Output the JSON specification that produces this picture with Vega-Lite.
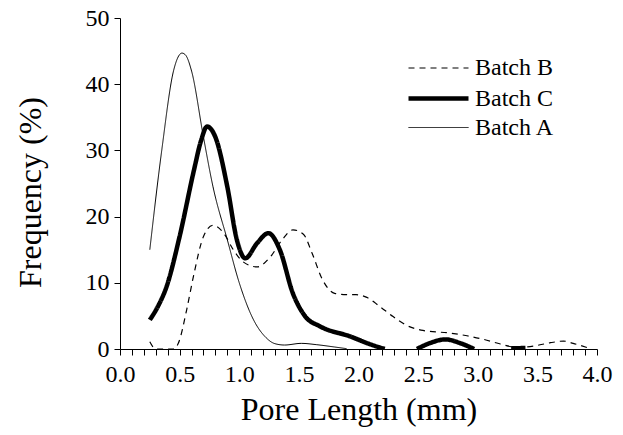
{
  "$schema": "https://vega.github.io/schema/vega-lite/v6.json",
  "width": 477,
  "height": 331,
  "autosize": "none",
  "padding": {"left": 120, "top": 18, "right": 26, "bottom": 86},
  "background": "white",
  "config": {
    "view": {"stroke": null},
    "font": "Liberation Serif",
    "axis": {"domainColor": "black", "tickColor": "black", "labelColor": "black", "titleColor": "black", "grid": false, "labelFont": "Liberation Serif", "titleFont": "Liberation Serif", "titleFontWeight": "normal"},
    "legend": {"labelFont": "Liberation Serif", "labelColor": "black"}
  },
  "data": {"values": [
    {"b": "Batch A", "s": 1, "x": 0.25, "y": 15},
    {"b": "Batch A", "s": 1, "x": 0.35, "y": 30},
    {"b": "Batch A", "s": 1, "x": 0.45, "y": 42.1},
    {"b": "Batch A", "s": 1, "x": 0.52, "y": 44.7},
    {"b": "Batch A", "s": 1, "x": 0.55, "y": 44.4},
    {"b": "Batch A", "s": 1, "x": 0.6, "y": 42},
    {"b": "Batch A", "s": 1, "x": 0.7, "y": 32},
    {"b": "Batch A", "s": 1, "x": 0.78, "y": 24.5},
    {"b": "Batch A", "s": 1, "x": 0.9, "y": 16.5},
    {"b": "Batch A", "s": 1, "x": 1.0, "y": 10},
    {"b": "Batch A", "s": 1, "x": 1.12, "y": 4.4},
    {"b": "Batch A", "s": 1, "x": 1.22, "y": 1.8},
    {"b": "Batch A", "s": 1, "x": 1.3, "y": 0.8},
    {"b": "Batch A", "s": 1, "x": 1.38, "y": 0.6},
    {"b": "Batch A", "s": 1, "x": 1.52, "y": 0.85},
    {"b": "Batch A", "s": 1, "x": 1.65, "y": 0.65},
    {"b": "Batch A", "s": 1, "x": 1.8, "y": 0.3},
    {"b": "Batch A", "s": 1, "x": 1.9, "y": 0.05},
    {"b": "Batch C", "s": 1, "x": 0.25, "y": 4.4},
    {"b": "Batch C", "s": 1, "x": 0.32, "y": 6.5},
    {"b": "Batch C", "s": 1, "x": 0.39, "y": 9.4},
    {"b": "Batch C", "s": 1, "x": 0.5, "y": 17},
    {"b": "Batch C", "s": 1, "x": 0.62, "y": 27},
    {"b": "Batch C", "s": 1, "x": 0.68, "y": 31.5},
    {"b": "Batch C", "s": 1, "x": 0.73, "y": 33.6},
    {"b": "Batch C", "s": 1, "x": 0.8, "y": 32},
    {"b": "Batch C", "s": 1, "x": 0.9, "y": 24.5},
    {"b": "Batch C", "s": 1, "x": 0.98, "y": 16.5},
    {"b": "Batch C", "s": 1, "x": 1.05, "y": 13.7},
    {"b": "Batch C", "s": 1, "x": 1.15, "y": 16},
    {"b": "Batch C", "s": 1, "x": 1.245, "y": 17.5},
    {"b": "Batch C", "s": 1, "x": 1.34, "y": 15},
    {"b": "Batch C", "s": 1, "x": 1.45, "y": 8.4},
    {"b": "Batch C", "s": 1, "x": 1.55, "y": 5},
    {"b": "Batch C", "s": 1, "x": 1.68, "y": 3.4},
    {"b": "Batch C", "s": 1, "x": 1.93, "y": 1.9},
    {"b": "Batch C", "s": 1, "x": 2.1, "y": 0.7},
    {"b": "Batch C", "s": 1, "x": 2.22, "y": 0},
    {"b": "Batch C", "s": 2, "x": 2.49, "y": 0},
    {"b": "Batch C", "s": 2, "x": 2.6, "y": 0.9},
    {"b": "Batch C", "s": 2, "x": 2.73, "y": 1.45},
    {"b": "Batch C", "s": 2, "x": 2.85, "y": 0.9},
    {"b": "Batch C", "s": 2, "x": 2.97, "y": 0},
    {"b": "Batch C", "s": 3, "x": 3.28, "y": 0.1},
    {"b": "Batch C", "s": 3, "x": 3.4, "y": 0.15},
    {"b": "Batch B", "s": 1, "x": 0.25, "y": 1.1},
    {"b": "Batch B", "s": 1, "x": 0.3, "y": 0},
    {"b": "Batch B", "s": 1, "x": 0.45, "y": 0},
    {"b": "Batch B", "s": 1, "x": 0.49, "y": 0.9},
    {"b": "Batch B", "s": 1, "x": 0.56, "y": 6},
    {"b": "Batch B", "s": 1, "x": 0.615, "y": 10.9},
    {"b": "Batch B", "s": 1, "x": 0.7, "y": 17},
    {"b": "Batch B", "s": 1, "x": 0.78, "y": 18.7},
    {"b": "Batch B", "s": 1, "x": 0.87, "y": 17.5},
    {"b": "Batch B", "s": 1, "x": 0.95, "y": 15},
    {"b": "Batch B", "s": 1, "x": 1.03, "y": 13.2},
    {"b": "Batch B", "s": 1, "x": 1.15, "y": 12.4},
    {"b": "Batch B", "s": 1, "x": 1.26, "y": 13.9},
    {"b": "Batch B", "s": 1, "x": 1.36, "y": 16.5},
    {"b": "Batch B", "s": 1, "x": 1.45, "y": 18},
    {"b": "Batch B", "s": 1, "x": 1.54, "y": 17.3},
    {"b": "Batch B", "s": 1, "x": 1.61, "y": 14.5},
    {"b": "Batch B", "s": 1, "x": 1.7, "y": 10.4},
    {"b": "Batch B", "s": 1, "x": 1.8, "y": 8.4},
    {"b": "Batch B", "s": 1, "x": 1.9, "y": 8.2},
    {"b": "Batch B", "s": 1, "x": 1.98, "y": 8.2},
    {"b": "Batch B", "s": 1, "x": 2.07, "y": 7.8},
    {"b": "Batch B", "s": 1, "x": 2.18, "y": 6.4},
    {"b": "Batch B", "s": 1, "x": 2.29, "y": 4.9},
    {"b": "Batch B", "s": 1, "x": 2.4, "y": 3.6},
    {"b": "Batch B", "s": 1, "x": 2.54, "y": 2.8},
    {"b": "Batch B", "s": 1, "x": 2.77, "y": 2.4},
    {"b": "Batch B", "s": 1, "x": 2.91, "y": 2.0},
    {"b": "Batch B", "s": 1, "x": 3.05, "y": 1.45},
    {"b": "Batch B", "s": 1, "x": 3.19, "y": 0.75},
    {"b": "Batch B", "s": 1, "x": 3.33, "y": 0.25},
    {"b": "Batch B", "s": 1, "x": 3.47, "y": 0.45},
    {"b": "Batch B", "s": 1, "x": 3.61, "y": 0.95},
    {"b": "Batch B", "s": 1, "x": 3.72, "y": 1.2},
    {"b": "Batch B", "s": 1, "x": 3.8, "y": 0.85},
    {"b": "Batch B", "s": 1, "x": 3.92, "y": 0.2}
  ]},
  "mark": {"type": "line", "interpolate": "monotone", "color": "black", "clip": true},
  "encoding": {
    "x": {"field": "x", "type": "quantitative",
      "scale": {"domain": [0, 4], "nice": false, "zero": false},
      "axis": {"title": "Pore Length (mm)", "titleFontSize": 32, "titlePadding": 8,
        "values": [0,0.1,0.2,0.3,0.4,0.5,0.6,0.7,0.8,0.9,1,1.1,1.2,1.3,1.4,1.5,1.6,1.7,1.8,1.9,2,2.1,2.2,2.3,2.4,2.5,2.6,2.7,2.8,2.9,3,3.1,3.2,3.3,3.4,3.5,3.6,3.7,3.8,3.9,4],
        "labelExpr": "round(datum.value*10) % 5 == 0 ? format(datum.value, '.1f') : ''",
        "labelOverlap": false, "labelBound": false, "labelFlush": false,
        "labelFontSize": 24, "labelPadding": 7, "tickSize": 6}},
    "y": {"field": "y", "type": "quantitative",
      "scale": {"domain": [0, 50], "nice": false},
      "axis": {"title": "Frequency (%)", "titleFontSize": 32, "titlePadding": 38, "titleY": 174,
        "values": [0, 10, 20, 30, 40, 50], "labelFontSize": 24, "labelPadding": 5, "tickSize": 6}},
    "detail": {"field": "s"},
    "strokeDash": {"field": "b", "type": "nominal",
      "scale": {"domain": ["Batch B", "Batch C", "Batch A"], "range": [[6, 5], [1, 0], [1, 0]]},
      "legend": {"title": null, "orient": "none", "legendX": 304, "legendY": 37,
        "symbolType": "M-2.5,0H2.5", "symbolSize": 576, "symbolStrokeColor": "black",
        "labelFontSize": 24, "labelOffset": 22, "rowPadding": 4, "padding": 0}},
    "strokeWidth": {"field": "b", "type": "nominal",
      "scale": {"type": "ordinal", "domain": ["Batch B", "Batch C", "Batch A"], "range": [1.2, 4.5, 1]},
      "legend": {"title": null, "orient": "none", "legendX": 304, "legendY": 37,
        "symbolType": "M-2.5,0H2.5", "symbolSize": 576, "symbolStrokeColor": "black",
        "labelFontSize": 24, "labelOffset": 22, "rowPadding": 4, "padding": 0}}
  }
}
